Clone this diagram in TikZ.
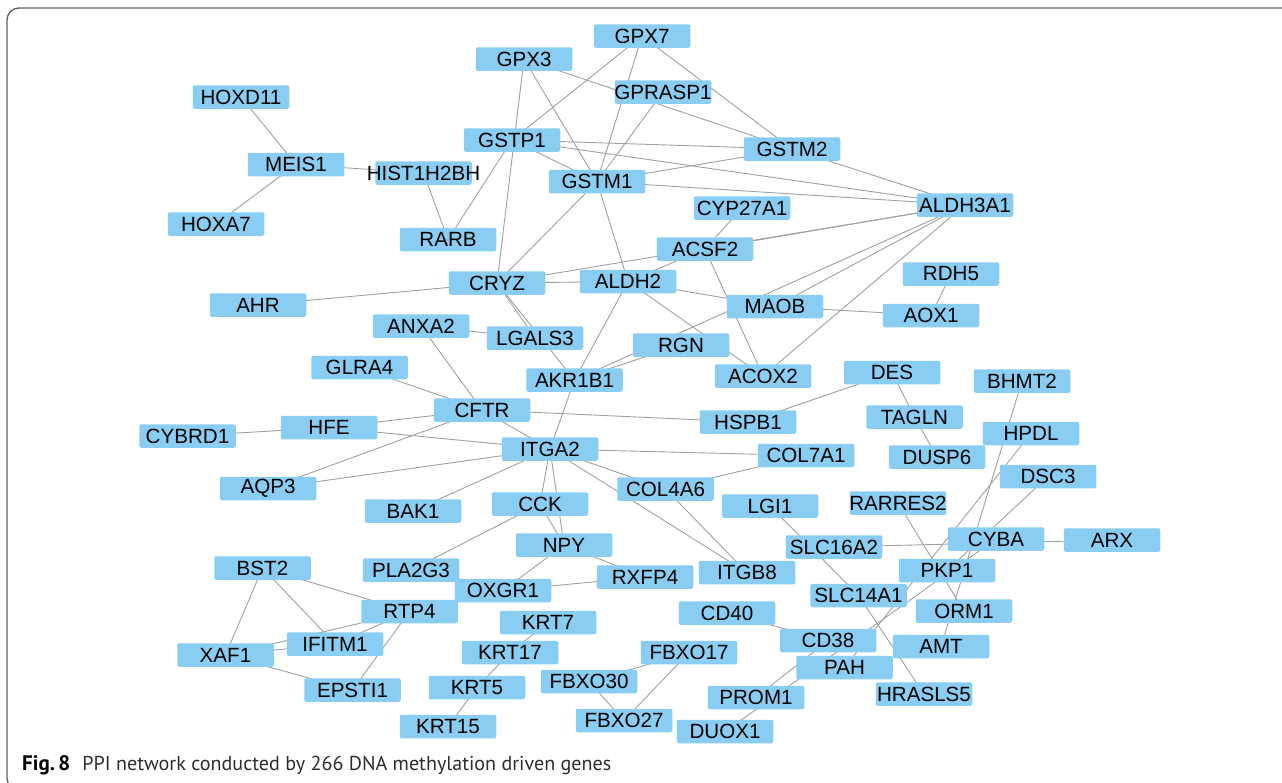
\documentclass[tikz,border=0pt]{standalone}
\usepackage{fontspec}
\setmainfont{Liberation Sans}
\newfontfamily\capfont{PT Sans}
\usetikzlibrary{backgrounds}
\definecolor{nodeblue}{RGB}{137,206,242}
\definecolor{edgegray}{RGB}{160,160,160}
\definecolor{framegray}{RGB}{95,95,95}
\definecolor{captext}{RGB}{45,45,45}
\tikzset{
  gene/.style={rectangle, rounded corners=2pt, fill=nodeblue, minimum width=96.5pt,
    minimum height=23.5pt, inner sep=0pt, font=\fontsize{20.6}{24}\selectfont, text=black},
  link/.style={draw=edgegray, line width=0.9pt},
  frameline/.style={draw=framegray, line width=1.3pt, rounded corners=12pt}
}
\begin{document}
\begin{tikzpicture}[x=1pt,y=-1pt]
\useasboundingbox (0,0) rectangle (1282,782);
\begin{scope}
\clip (0,0) rectangle (1282,782);
\draw[frameline] (1300,8) -- (7,8) -- (7,790) -- (1300,790);
\end{scope}

\node[gene] (HOXD11) at (241,97) {HOXD11};
\node[gene] (MEIS1) at (296,164.5) {MEIS1};
\node[gene] (HOXA7) at (216,224) {HOXA7};
\node[gene] (HIST1H2BH) at (423.5,173) {\makebox[0pt][c]{HIST1H2BH}};
\node[gene] (RARB) at (448,239.5) {RARB};
\node[gene] (GPX7) at (642,36) {GPX7};
\node[gene] (GPX3) at (524,59) {GPX3};
\node[gene] (GPRASP1) at (663,92) {\makebox[0pt][c]{GPRASP1}};
\node[gene] (GSTP1) at (512,140) {GSTP1};
\node[gene] (GSTM2) at (792,149) {GSTM2};
\node[gene] (GSTM1) at (597,181.5) {GSTM1};
\node[gene] (CYP27A1) at (742,208) {\makebox[0pt][c]{CYP27A1}};
\node[gene] (ACSF2) at (705,249) {ACSF2};
\node[gene] (ALDH3A1) at (965,205) {\makebox[0pt][c]{ALDH3A1}};
\node[gene] (AHR) at (258,305) {AHR};
\node[gene] (CRYZ) at (497,283) {CRYZ};
\node[gene] (ALDH2) at (628,281.5) {ALDH2};
\node[gene] (MAOB) at (775,306.5) {MAOB};
\node[gene] (RDH5) at (951,274) {RDH5};
\node[gene] (AOX1) at (931,315.5) {AOX1};
\node[gene] (ANXA2) at (421,326) {ANXA2};
\node[gene] (LGALS3) at (535,338) {LGALS3};
\node[gene] (RGN) at (681,345) {RGN};
\node[gene] (ACOX2) at (763,376) {ACOX2};
\node[gene] (AKR1B1) at (574.5,380) {AKR1B1};
\node[gene] (GLRA4) at (359.5,367.5) {GLRA4};
\node[gene] (DES) at (892,372.5) {DES};
\node[gene] (BHMT2) at (1022,381) {BHMT2};
\node[gene] (CFTR) at (482,410) {CFTR};
\node[gene] (HSPB1) at (748,422) {HSPB1};
\node[gene] (TAGLN) at (914.5,417) {TAGLN};
\node[gene] (HFE) at (329,427.5) {HFE};
\node[gene] (CYBRD1) at (187.5,436) {CYBRD1};
\node[gene] (HPDL) at (1031,433.5) {HPDL};
\node[gene] (ITGA2) at (550,449) {ITGA2};
\node[gene] (COL7A1) at (806,455.5) {COL7A1};
\node[gene] (DUSP6) at (937,457) {DUSP6};
\node[gene] (DSC3) at (1048,476.5) {DSC3};
\node[gene] (AQP3) at (268,488.5) {AQP3};
\node[gene] (COL4A6) at (665.5,489) {COL4A6};
\node[gene] (BAK1) at (413,511) {BAK1};
\node[gene] (CCK) at (540,504) {CCK};
\node[gene] (LGI1) at (770,506) {LGI1};
\node[gene] (RARRES2) at (898,503) {\makebox[0pt][c]{RARRES2}};
\node[gene] (NPY) at (564,545) {NPY};
\node[gene] (SLC16A2) at (834,547) {\makebox[0pt][c]{SLC16A2}};
\node[gene] (CYBA) at (996,539) {CYBA};
\node[gene] (ARX) at (1112,540) {ARX};
\node[gene] (BST2) at (262.5,568) {BST2};
\node[gene] (PLA2G3) at (411,570) {PLA2G3};
\node[gene] (RXFP4) at (645,577) {RXFP4};
\node[gene] (ITGB8) at (747,572.5) {ITGB8};
\node[gene] (PKP1) at (947,570.5) {PKP1};
\node[gene] (OXGR1) at (503,590.5) {OXGR1};
\node[gene] (SLC14A1) at (858.5,595.5) {\makebox[0pt][c]{SLC14A1}};
\node[gene] (RTP4) at (409.5,611.5) {RTP4};
\node[gene] (KRT7) at (548,622.5) {KRT7};
\node[gene] (CD40) at (727,613) {CD40};
\node[gene] (ORM1) at (964,611) {ORM1};
\node[gene] (IFITM1) at (335,644) {IFITM1};
\node[gene] (XAF1) at (225.5,655) {XAF1};
\node[gene] (CD38) at (828,640.5) {CD38};
\node[gene] (AMT) at (941,646.5) {AMT};
\node[gene] (KRT17) at (510,652.5) {KRT17};
\node[gene] (FBXO17) at (689,652.5) {FBXO17};
\node[gene] (PAH) at (844.5,667.5) {PAH};
\node[gene] (FBXO30) at (589,681.5) {FBXO30};
\node[gene] (KRT5) at (477,687.5) {KRT5};
\node[gene] (EPSTI1) at (352.5,690) {EPSTI1};
\node[gene] (HRASLS5) at (924,694) {\makebox[0pt][c]{HRASLS5}};
\node[gene] (PROM1) at (756,697.5) {PROM1};
\node[gene] (FBXO27) at (624,720.5) {FBXO27};
\node[gene] (KRT15) at (448,726.5) {KRT15};
\node[gene] (DUOX1) at (725,731.5) {DUOX1};

\begin{scope}[on background layer]
\foreach \a/\b in {HOXD11/MEIS1, HOXA7/MEIS1, MEIS1/HIST1H2BH, HIST1H2BH/RARB, RARB/GSTP1,
  GPX3/GSTM2, GPX3/CRYZ, GPX3/GSTM1, GPX7/GSTP1, GPX7/GSTM1, GPX7/GSTM2, GPRASP1/GSTM1,
  GSTP1/GSTM2, GSTP1/ALDH3A1, GSTP1/GSTM1, GSTM1/GSTM2, GSTM1/ALDH3A1, GSTM2/ALDH3A1,
  GSTM1/CRYZ, GSTM1/ALDH2, CYP27A1/ACSF2, ACSF2/ALDH3A1, CRYZ/ALDH3A1, ACSF2/ALDH2,
  ACSF2/ACOX2, ALDH2/MAOB, ALDH2/CRYZ, ALDH2/AKR1B1, AKR1B1/ITGA2, ALDH2/ACOX2,
  ALDH3A1/AKR1B1, RGN/AKR1B1, ALDH3A1/MAOB, ALDH3A1/ACOX2, MAOB/AOX1, RDH5/AOX1,
  AHR/CRYZ, CRYZ/LGALS3, CRYZ/AKR1B1, ANXA2/LGALS3, ANXA2/CFTR, GLRA4/CFTR, CFTR/ITGA2,
  HFE/CFTR, HFE/ITGA2, CYBRD1/HFE, AQP3/CFTR, AQP3/ITGA2, BAK1/ITGA2, CFTR/HSPB1,
  HSPB1/DES, DES/TAGLN, TAGLN/DUSP6, ITGA2/COL7A1, ITGA2/COL4A6, ITGA2/ITGB8,
  COL4A6/COL7A1, COL4A6/ITGB8, ITGA2/CCK, ITGA2/NPY, CCK/NPY, CCK/PLA2G3, NPY/OXGR1,
  NPY/RXFP4, OXGR1/RXFP4, BST2/RTP4, BST2/IFITM1, BST2/XAF1, XAF1/IFITM1, XAF1/RTP4,
  IFITM1/RTP4, XAF1/EPSTI1, EPSTI1/RTP4, KRT7/KRT17, KRT17/KRT5, KRT5/KRT15,
  FBXO17/FBXO30, FBXO17/FBXO27, FBXO30/FBXO27, CD40/CD38, PROM1/CD38, CYBA/DUOX1,
  HPDL/PAH, DSC3/PKP1, BHMT2/AMT, RARRES2/ORM1, SLC16A2/ARX, LGI1/SLC14A1, SLC14A1/HRASLS5}
  \draw[link] (\a.center) -- (\b.center);
\end{scope}

\node[anchor=base west, inner sep=0pt, text=captext, font=\capfont\fontsize{20.1}{24}\selectfont] (caption) at (22,770)
  {{\fontsize{21}{24}\selectfont\bfseries\color{black}Fig.\,8}\hspace{0.6em}PPI network conducted by 266 DNA methylation driven genes};
\end{tikzpicture}
\end{document}
